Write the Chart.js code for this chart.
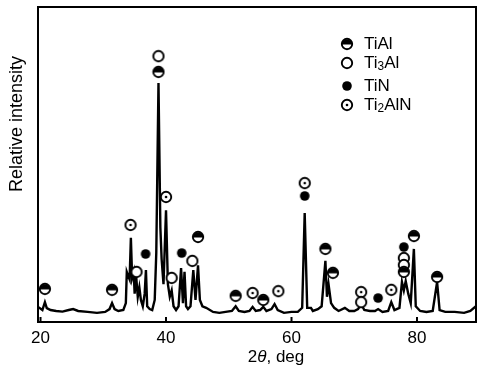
<!DOCTYPE html>
<html>
<head>
<meta charset="utf-8">
<script src="https://cdn.jsdelivr.net/npm/chart.js@4.4.0/dist/chart.umd.min.js"></script>
<style>
    body { margin: 0; background: #fff; }
    #wrap { width: 483px; height: 368px; }
</style>
</head>
<body>
<div id="wrap"><canvas id="xrdChart" width="483" height="368"></canvas></div>
<script>
// XRD trace: 2theta (deg) and relative intensity
const angles = [19.6, 20.3, 20.7, 21.0, 21.6, 22.5, 23.5, 24.5, 25.2, 26.0, 27.5, 29.0, 30.3, 31.0, 31.4, 31.8, 32.4, 33.2,
    33.6, 33.75, 34.0, 34.2, 34.4, 34.6, 34.85, 35.0, 35.25, 35.5, 35.75, 36.0, 36.3, 36.6, 36.8, 37.0, 37.4, 37.8,
    38.2, 38.45, 38.8, 39.1, 39.3, 39.6, 40.0, 40.3, 40.6, 40.9, 41.2, 41.6, 42.0, 42.4, 42.7, 42.95, 43.2, 43.5, 43.9,
    44.35, 44.7, 45.1, 45.4, 45.8, 46.4, 47.5, 48.5, 49.5, 50.5, 51.1, 51.6, 52.5, 53.3, 53.8, 54.3, 55.0, 55.5, 56.0,
    56.8, 57.3, 57.8, 58.8, 60.0, 61.0, 61.7, 62.1, 62.5, 63.1, 63.4, 64.2, 64.8, 65.4, 65.65, 65.9, 66.3, 66.8, 67.5,
    68.5, 69.2, 70.0, 70.6, 71.1, 71.6, 72.5, 73.3, 73.8, 74.5, 75.4, 75.9, 76.4, 77.2, 77.6, 77.9, 78.2, 78.6, 79.0,
    79.5, 79.8, 80.5, 81.5, 82.5, 83.2, 83.6, 84.5, 86.0, 87.5, 88.5, 89.4];
const intensity = [4.8, 3.8, 6.3, 4.4, 3.8, 3.5, 3.3, 3.8, 4.1, 3.5, 3.2, 2.9, 3.2, 4.1, 6.0, 4.1, 3.5, 3.8,
    6.0, 15.9, 14.5, 13.5, 26.7, 14.0, 15.9, 9.0, 14.3, 8.0, 11.0, 7.0, 5.0, 9.0, 16.5, 5.0, 4.1, 3.8,
    7.0, 22.0, 75.9, 30.0, 20.0, 12.0, 35.5, 12.0, 8.0, 10.0, 5.0, 3.8, 5.0, 17.1, 6.0, 15.9, 5.0, 4.1, 5.0,
    16.5, 7.0, 18.0, 7.0, 5.0, 4.5, 3.2, 2.9, 3.2, 3.5, 5.0, 3.5, 3.2, 3.5, 4.8, 3.5, 3.8, 4.8, 3.5,
    4.1, 5.7, 3.8, 2.9, 3.2, 3.2, 4.5, 34.6, 4.5, 4.5, 3.5, 4.1, 5.0, 19.4, 8.0, 12.0, 6.0, 4.5, 3.5,
    4.5, 3.5, 3.5, 4.1, 5.7, 3.8, 3.5, 3.5, 4.1, 3.2, 3.5, 6.3, 3.8, 4.5, 12.7, 10.0, 13.0, 9.0, 6.0,
    23.2, 5.0, 3.5, 3.2, 3.5, 12.7, 3.8, 3.2, 3.2, 2.9, 3.5, 5.0];

// Phase markers: angle and height of each symbol
const tiAlAngles = [20.7, 31.4, 38.8, 45.1, 51.1, 55.5, 65.4, 66.6, 77.9, 79.5, 83.2];
const tiAlHeights = [10.5, 10.2, 79.4, 27.0, 8.3, 7.0, 23.2, 15.6, 15.9, 27.3, 14.3];
const ti3AlAngles = [38.8, 35.3, 40.9, 44.2, 71.1, 77.9, 77.9];
const ti3AlHeights = [84.4, 15.9, 14.0, 19.4, 6.3, 20.3, 18.1];
const tiNAngles = [36.75, 42.5, 62.1, 73.8, 77.9];
const tiNHeights = [21.6, 21.9, 40.0, 7.6, 23.8];
const ti2AlNAngles = [34.35, 40.0, 53.8, 57.9, 62.1, 71.1, 75.9];
const ti2AlNHeights = [30.8, 39.7, 9.2, 9.8, 44.1, 9.5, 10.2];

const xTicks = [20, 40, 60, 80];
const FONT = "'Liberation Sans', Arial, sans-serif";

function makeIcon(kind) {
    const c = document.createElement('canvas');
    c.width = 14; c.height = 14;
    const g = c.getContext('2d');
    g.strokeStyle = '#000';
    g.fillStyle = '#000';
    g.lineWidth = 1.9;
    if (kind === 'TiN') {
        g.beginPath(); g.arc(7, 7, 4.8, 0, Math.PI * 2); g.fill();
        return c;
    }
    g.fillStyle = '#fff';
    g.beginPath(); g.arc(7, 7, 5.2, 0, Math.PI * 2); g.fill();
    g.fillStyle = '#000';
    if (kind === 'TiAl') {
        g.beginPath(); g.arc(7, 7.4, 5.2, Math.PI, 0); g.closePath(); g.fill();
    }
    if (kind === 'Ti2AlN') {
        g.beginPath(); g.arc(7, 7, 1.3, 0, Math.PI * 2); g.fill();
    }
    g.beginPath(); g.arc(7, 7, 5.2, 0, Math.PI * 2); g.stroke();
    return c;
}

const icons = {
    TiAl: makeIcon('TiAl'),
    Ti3Al: makeIcon('Ti3Al'),
    TiN: makeIcon('TiN'),
    Ti2AlN: makeIcon('Ti2AlN')
};

function pts(xs, ys) {
    return xs.map((v, i) => ({ x: v, y: ys[i] }));
}

function markerSet(name, xs, ys) {
    return {
        label: name,
        data: pts(xs, ys),
        showLine: false,
        pointStyle: icons[name],
        pointRadius: 6,
        order: 1
    };
}

// text with subscripts, parts = [[text, isSub], ...]
function drawChem(ctx, parts, x, y, size) {
    parts.forEach(p => {
        const s = p[1] ? size * 0.7 : size;
        ctx.font = s + 'px ' + FONT;
        ctx.fillText(p[0], x, p[1] ? y + size * 0.22 : y);
        x += ctx.measureText(p[0]).width;
    });
}

const legendItems = [
    ['TiAl', [['TiAl', false]], 37],
    ['Ti3Al', [['Ti', false], ['3', true], ['Al', false]], 56],
    ['TiN', [['TiN', false]], 79],
    ['Ti2AlN', [['Ti', false], ['2', true], ['AlN', false]], 98]
];

const decorPlugin = {
    id: 'decor',
    afterDraw(chart) {
        const { ctx, chartArea: a, scales: { x } } = chart;
        ctx.save();
        ctx.strokeStyle = '#000';
        ctx.lineWidth = 2;
        ctx.strokeRect(a.left, a.top, a.right - a.left, a.bottom - a.top);
        // inward tick marks
        x.ticks.forEach(t => {
            const px = x.getPixelForValue(t.value);
            ctx.beginPath();
            ctx.moveTo(px, a.bottom);
            ctx.lineTo(px, a.bottom - 5);
            ctx.stroke();
        });
        ctx.fillStyle = '#000';
        ctx.textBaseline = 'middle';
        // y title
        ctx.save();
        ctx.translate(17, 124);
        ctx.rotate(-Math.PI / 2);
        ctx.textAlign = 'center';
        ctx.font = '18px ' + FONT;
        ctx.fillText('Relative intensity', 0, 0);
        ctx.restore();
        // x title "2θ, deg"
        ctx.font = '17px ' + FONT;
        const w1 = ctx.measureText('2').width;
        ctx.font = 'italic 17px ' + FONT;
        const w2 = ctx.measureText('θ').width;
        ctx.font = '17px ' + FONT;
        const w3 = ctx.measureText(', deg').width;
        let tx = 276 - (w1 + w2 + w3) / 2;
        const ty = 357;
        ctx.fillText('2', tx, ty); tx += w1;
        ctx.font = 'italic 17px ' + FONT;
        ctx.fillText('θ', tx, ty); tx += w2;
        ctx.font = '17px ' + FONT;
        ctx.fillText(', deg', tx, ty);
        // legend
        legendItems.forEach(item => {
            const iy = a.top + item[2];
            ctx.drawImage(icons[item[0]], a.right - 136, iy - 7);
            drawChem(ctx, item[1], a.right - 112, iy, 17);
        });
        ctx.restore();
    }
};

new Chart(document.getElementById('xrdChart'), {
    type: 'line',
    data: {
        datasets: [
            markerSet('TiAl', tiAlAngles, tiAlHeights),
            markerSet('Ti3Al', ti3AlAngles, ti3AlHeights),
            markerSet('TiN', tiNAngles, tiNHeights),
            markerSet('Ti2AlN', ti2AlNAngles, ti2AlNHeights),
            {
                label: 'trace',
                data: pts(angles, intensity),
                borderColor: '#000',
                borderWidth: 2.4,
                pointRadius: 0,
                tension: 0,
                fill: false,
                order: 5
            }
        ]
    },
    options: {
        responsive: false,
        animation: false,
        layout: { padding: { top: 7, right: 2, left: 0, bottom: 0 } },
        plugins: {
            legend: { display: false },
            tooltip: { enabled: false }
        },
        scales: {
            x: {
                type: 'linear',
                min: 19.6,
                max: 89.4,
                afterBuildTicks: s => { s.ticks = xTicks.map(v => ({ value: v })); },
                ticks: {
                    color: '#000',
                    padding: 6,
                    font: { family: FONT, size: 17 }
                },
                grid: { display: false, drawTicks: false },
                border: { display: false },
                afterFit: s => { s.height = 46; }
            },
            y: {
                min: 0,
                max: 100,
                ticks: { display: false },
                grid: { display: false, drawTicks: false },
                border: { display: false },
                afterFit: s => { s.width = 38; }
            }
        }
    },
    plugins: [decorPlugin]
});
</script>
</body>
</html>
